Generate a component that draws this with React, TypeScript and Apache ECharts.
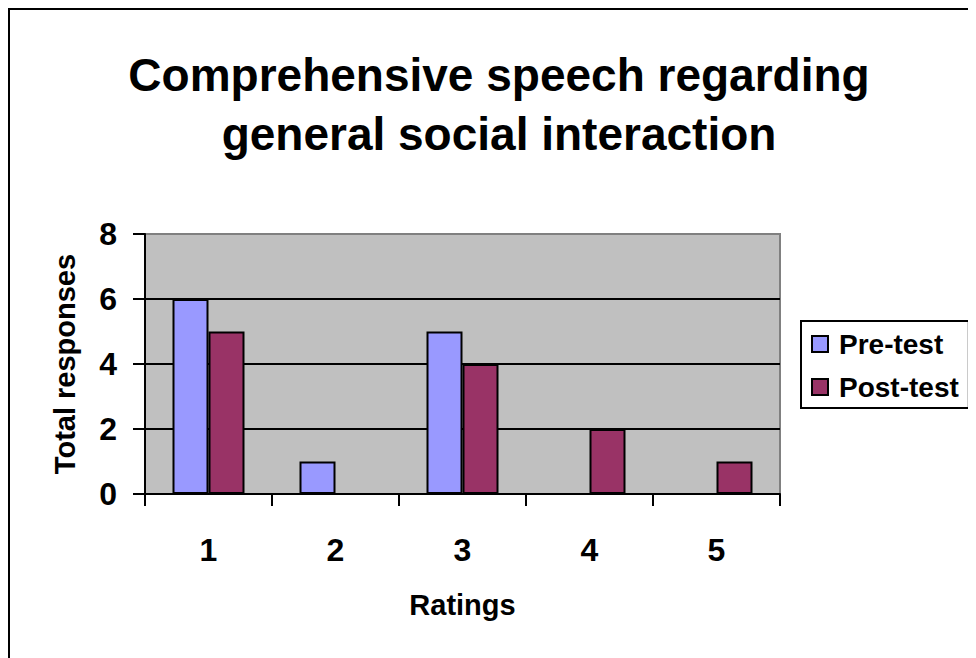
import React, { useEffect, useRef } from "react";
import * as echarts from "echarts";

const categories = ["1", "2", "3", "4", "5"];
const preTest = [6, 1, 5, 0, 0];
const postTest = [5, 0, 4, 2, 1];
const yTicks = { min: 0, max: 8, interval: 2 };

const FONT = '"Liberation Sans", Arial, Helvetica, sans-serif';

export default function App() {
  const ref = useRef<HTMLDivElement>(null);
  useEffect(() => {
    if (!ref.current) return;
    const chart = echarts.init(ref.current, undefined, { renderer: "svg" });
    chart.setOption({
      animation: false,
      backgroundColor: "#ffffff",
      textStyle: { fontFamily: FONT },
      title: {
        text: "Comprehensive speech regarding\ngeneral social interaction",
        left: 491,
        textAlign: "center",
        top: 37,
        padding: 0,
        textStyle: {
          fontFamily: FONT,
          fontSize: 46,
          fontWeight: "bold",
          color: "#000",
          lineHeight: 59,
        },
      },
      graphic: [
        { type: "line", shape: { x1: 0, y1: 1, x2: 968, y2: 1 }, style: { stroke: "#000", lineWidth: 2 } },
        { type: "line", shape: { x1: 1, y1: 0, x2: 1, y2: 650 }, style: { stroke: "#000", lineWidth: 2 } },
      ],
      legend: {
        orient: "vertical",
        left: 793,
        top: 313,
        padding: [9, 10, 7, 10],
        borderColor: "#000",
        borderWidth: 2,
        backgroundColor: "#fff",
        itemWidth: 16,
        itemHeight: 16,
        itemGap: 15,
        icon: "rect",
        itemStyle: { borderColor: "#000", borderWidth: 2 },
        textStyle: {
          fontFamily: FONT,
          fontSize: 28,
          fontWeight: "bold",
          color: "#000",
          padding: [0, 0, 0, 6],
        },
        data: ["Pre-test", "Post-test"],
      },
      grid: {
        left: 137,
        top: 226,
        width: 635,
        height: 260,
        show: true,
        backgroundColor: "#C0C0C0",
        borderColor: "#808080",
        borderWidth: 2,
        containLabel: false,
      },
      xAxis: {
        type: "category",
        data: categories,
        name: "Ratings",
        nameLocation: "middle",
        nameGap: 96,
        nameTextStyle: { fontFamily: FONT, fontSize: 29, fontWeight: "bold", color: "#000" },
        axisLine: { show: true, lineStyle: { color: "#000", width: 2 } },
        axisTick: { show: true, alignWithLabel: false, length: 12, lineStyle: { color: "#000", width: 2 } },
        axisLabel: { fontFamily: FONT, fontSize: 32, fontWeight: "bold", color: "#000", margin: 40 },
        splitLine: { show: false },
      },
      yAxis: {
        type: "value",
        min: yTicks.min,
        max: yTicks.max,
        interval: yTicks.interval,
        name: "Total responses",
        nameLocation: "middle",
        nameRotate: 90,
        nameGap: 66,
        nameTextStyle: { fontFamily: FONT, fontSize: 29, fontWeight: "bold", color: "#000" },
        axisLine: { show: true, lineStyle: { color: "#000", width: 2 } },
        axisTick: { show: true, length: 12, lineStyle: { color: "#000", width: 2 } },
        axisLabel: { fontFamily: FONT, fontSize: 32, fontWeight: "bold", color: "#000", margin: 28 },
        splitLine: { show: true, showMinLine: false, showMaxLine: false, lineStyle: { color: "#000", width: 2 } },
      },
      series: [
        {
          name: "Pre-test",
          type: "bar",
          data: preTest,
          barWidth: 36,
          barGap: "0%",
          itemStyle: { color: "#9999FF", borderColor: "#000", borderWidth: 2 },
        },
        {
          name: "Post-test",
          type: "bar",
          data: postTest,
          barWidth: 36,
          barGap: "0%",
          itemStyle: { color: "#993366", borderColor: "#000", borderWidth: 2 },
        },
      ],
    });
    return () => chart.dispose();
  }, []);
  return <div ref={ref} style={{ width: 968, height: 650 }} />;
}
